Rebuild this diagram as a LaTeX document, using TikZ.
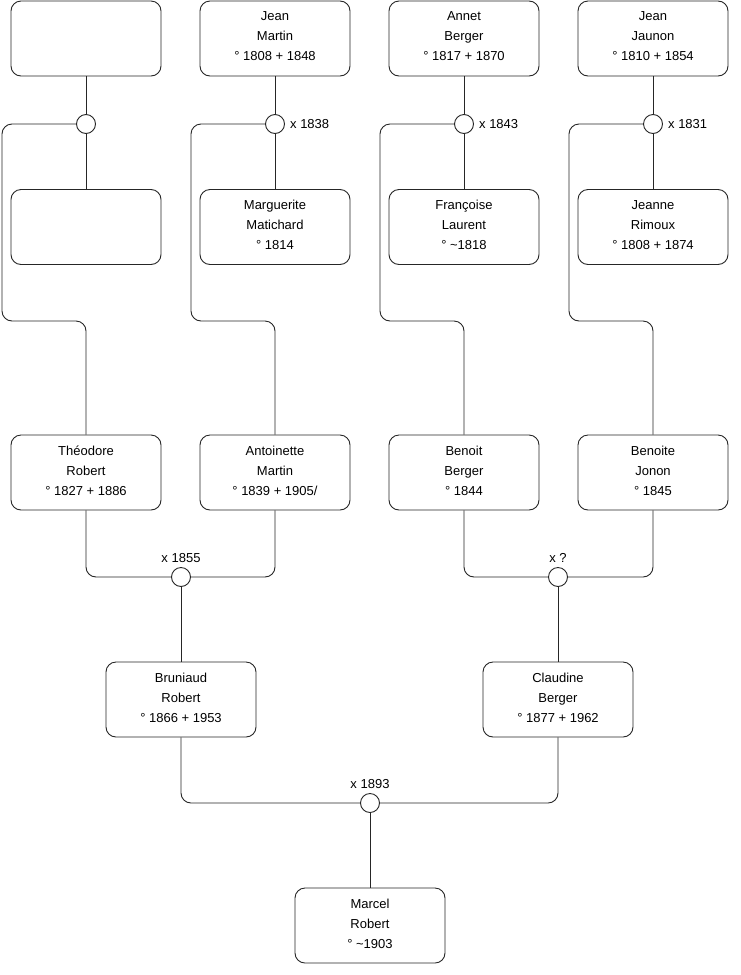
\documentclass[tikz,border=0pt]{standalone}
\usepackage{fontspec}
\setmainfont{Liberation Sans}
\begin{document}
\begin{tikzpicture}[x=1pt,y=-1pt,
  person/.style={draw=black!85, line width=0.9pt, rounded corners=10pt, minimum width=150pt, minimum height=75pt, align=center, font=\fontsize{13}{20}\selectfont, inner sep=0pt, text depth=4pt},
  wed/.style={circle, draw=black!85, line width=0.9pt, fill=white, minimum size=19pt, inner sep=0pt},
  conn/.style={draw=black!85, line width=0.9pt, rounded corners=10pt},
  wlab/.style={font=\fontsize{13}{15}\selectfont, inner sep=0pt}]
\path[fill=white] (0,0) rectangle (740,975);
% top row
\node[person] (a1) at (86,38.5) {};
\node[person] (a2) at (275,38.5) {Jean\\Martin\\° 1808 + 1848};
\node[person] (a3) at (464,38.5) {Annet\\Berger\\° 1817 + 1870};
\node[person] (a4) at (653,38.5) {Jean\\Jaunon\\° 1810 + 1854};
% second row
\node[person] (b1) at (86,227) {};
\node[person] (b2) at (275,227) {Marguerite\\Matichard\\° 1814};
\node[person] (b3) at (464,227) {Françoise\\Laurent\\° \textasciitilde1818};
\node[person] (b4) at (653,227) {Jeanne\\Rimoux\\° 1808 + 1874};
% third row
\node[person] (t1) at (86,472.5) {Théodore\\Robert\\° 1827 + 1886};
\node[person] (t2) at (275,472.5) {Antoinette\\Martin\\° 1839 + 1905/};
\node[person] (t3) at (464,472.5) {Benoit\\Berger\\° 1844};
\node[person] (t4) at (653,472.5) {Benoite\\Jonon\\° 1845};
% fourth row
\node[person] (g1) at (181,699.5) {Bruniaud\\Robert\\° 1866 + 1953};
\node[person] (g2) at (558,699.5) {Claudine\\Berger\\° 1877 + 1962};
% bottom
\node[person] (p) at (370,925.5) {Marcel\\Robert\\° \textasciitilde1903};
% marriage circles
\node[wed] (m1) at (86,124) {};
\node[wed] (m2) at (275,124) {};
\node[wed] (m3) at (464,124) {};
\node[wed] (m4) at (653,124) {};
\node[wed] (m5) at (181,577) {};
\node[wed] (m6) at (558,577) {};
\node[wed] (m7) at (370,803) {};
% labels
\node[wlab, anchor=west] (l2) at ([xshift=5pt]m2.east) {x 1838};
\node[wlab, anchor=west] (l3) at ([xshift=5pt]m3.east) {x 1843};
\node[wlab, anchor=west] (l4) at ([xshift=5pt]m4.east) {x 1831};
\node[wlab, anchor=south] (l5) at ([yshift=4.5pt]m5.north) {x 1855};
\node[wlab, anchor=south] (l6) at ([yshift=4.5pt]m6.north) {x ?};
\node[wlab, anchor=south] (l7) at ([yshift=4.5pt]m7.north) {x 1893};
% bend coordinates
\coordinate (k1) at (2,321);
\coordinate (k2) at (191,321);
\coordinate (k3) at (380,321);
\coordinate (k4) at (569,321);
% connectors
\foreach \i in {1,2,3,4}{
  \draw[conn] (a\i.south) -- (m\i.north);
  \draw[conn] (m\i.south) -- (b\i.north);
  \draw[conn] (m\i.west) -| (k\i) -| (t\i.north);
}
\draw[conn] (t1.south) |- (m5.west);
\draw[conn] (t2.south) |- (m5.east);
\draw[conn] (m5.south) -- (g1.north);
\draw[conn] (t3.south) |- (m6.west);
\draw[conn] (t4.south) |- (m6.east);
\draw[conn] (m6.south) -- (g2.north);
\draw[conn] (g1.south) |- (m7.west);
\draw[conn] (g2.south) |- (m7.east);
\draw[conn] (m7.south) -- (p.north);
\end{tikzpicture}
\end{document}
